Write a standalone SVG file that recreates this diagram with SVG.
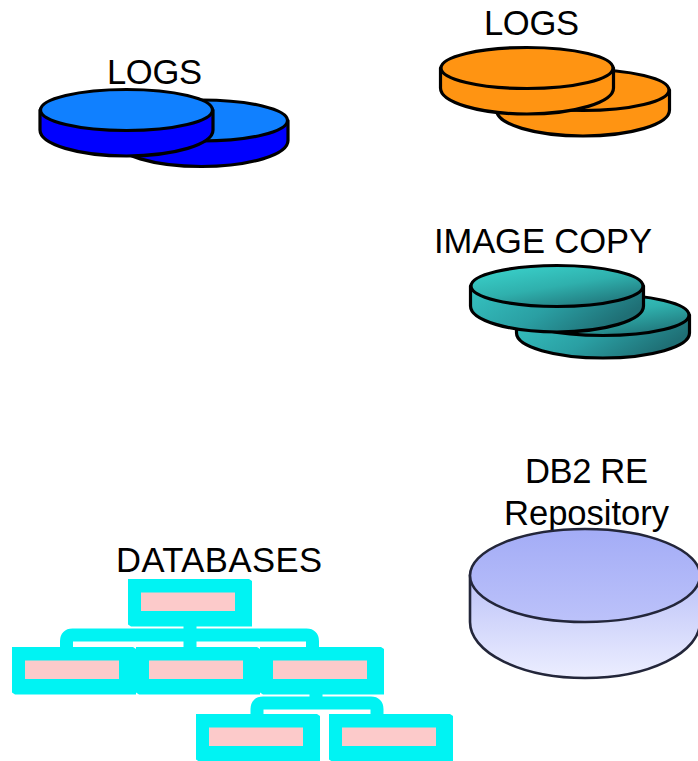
<svg xmlns="http://www.w3.org/2000/svg" width="698" height="761" viewBox="0 0 698 761">
<style>
.t{font-family:"Liberation Sans",Arial,sans-serif;font-size:34.6px;fill:#000}
.d{stroke:#000;stroke-width:3.2;stroke-linejoin:round}
.r{stroke:#23263a;stroke-width:2.6;stroke-linejoin:round}
.o{fill:#00f3f3;stroke:none}
.i{fill:#fccaca;stroke:none}
.c{fill:none;stroke:#00f3f3;stroke-width:13;stroke-linejoin:round}
.bs{fill:#0000ff}.bt{fill:#1080ff}.or{fill:#ff9412}
.ts{fill:url(#tealSide)}.tt{fill:url(#tealTop)}
</style>
<defs>
<linearGradient id="tealTop" x1="0.15" y1="0" x2="0.85" y2="1"><stop offset="0" stop-color="#3ad2cb"/><stop offset="0.5" stop-color="#2fb0ad"/><stop offset="1" stop-color="#1f6f75"/></linearGradient>
<linearGradient id="tealSide" x1="0" y1="0" x2="1" y2="0.4"><stop offset="0" stop-color="#36c4c2"/><stop offset="0.55" stop-color="#2a9fa3"/><stop offset="1" stop-color="#1f6f75"/></linearGradient>
<linearGradient id="repoTop" x1="0" y1="0" x2="0" y2="1"><stop offset="0" stop-color="#a3acf6"/><stop offset="1" stop-color="#bcc2fa"/></linearGradient>
<linearGradient id="repoSide" x1="0" y1="0" x2="0" y2="1"><stop offset="0" stop-color="#bcc2f8"/><stop offset="1" stop-color="#eceeff"/></linearGradient>
<path id="discSide" d="M-86.5 0V20A86.5 26 0 0 0 86.5 20V0Z"/>
<path id="discSideShort" d="M-86.5 0V18A86.5 25 0 0 0 86.5 18V0Z"/>
<ellipse id="discTop" cx="0" cy="0" rx="86" ry="20.5"/>
<g id="box"><path class="o" d="M0 0H121L124 2V47.5H3L0 45.5Z"/><rect class="i" x="13" y="13.5" width="94" height="18.5"/></g>
</defs>
<g id="connectors">
<path class="c" d="M66.5 648V641Q66.5 635 72.5 635H306.5Q312.5 635 312.5 641V648M190 626V648"/>
<path class="c" d="M257 715V709Q257 703 263 703H371Q377 703 377 709V715M316 693V703"/>
</g>
<g id="logs-blue">
<text class="t" x="107" y="84" textLength="95">LOGS</text>
<use href="#discSide" class="d bs" x="201.5" y="120.5"/>
<use href="#discTop" class="d bt" x="201.5" y="120.5"/>
<use href="#discSide" class="d bs" x="126.5" y="110"/>
<use href="#discTop" class="d bt" x="126.5" y="110"/>
</g>
<g id="logs-orange">
<text class="t" x="484" y="35" textLength="95">LOGS</text>
<use href="#discSide" class="d or" x="583" y="90"/>
<use href="#discTop" class="d or" x="583" y="90"/>
<use href="#discSide" class="d or" x="527" y="68"/>
<use href="#discTop" class="d or" x="527" y="68"/>
</g>
<g id="image-copy">
<text class="t" x="434" y="253" textLength="218">IMAGE COPY</text>
<use href="#discSideShort" class="d ts" x="603" y="315"/>
<use href="#discTop" class="d tt" x="603" y="315"/>
<use href="#discSide" class="d ts" x="557" y="286"/>
<use href="#discTop" class="d tt" x="557" y="286"/>
</g>
<g id="repository">
<text class="t" x="525" y="483" textLength="123">DB2 RE</text>
<text class="t" x="504" y="525" textLength="165">Repository</text>
<path class="r" fill="url(#repoSide)" d="M470 575V622A115 56 0 0 0 700 622V575Z"/>
<ellipse class="r" fill="url(#repoTop)" cx="585" cy="575.5" rx="115" ry="46.5"/>
</g>
<g id="databases">
<text class="t" x="116" y="572" textLength="206">DATABASES</text>
<use href="#box" x="128" y="579"/>
<use href="#box" x="12" y="647"/>
<use href="#box" x="136" y="647"/>
<use href="#box" x="260" y="647"/>
<use href="#box" x="196" y="714"/>
<use href="#box" x="329" y="714"/>
</g>
</svg>
